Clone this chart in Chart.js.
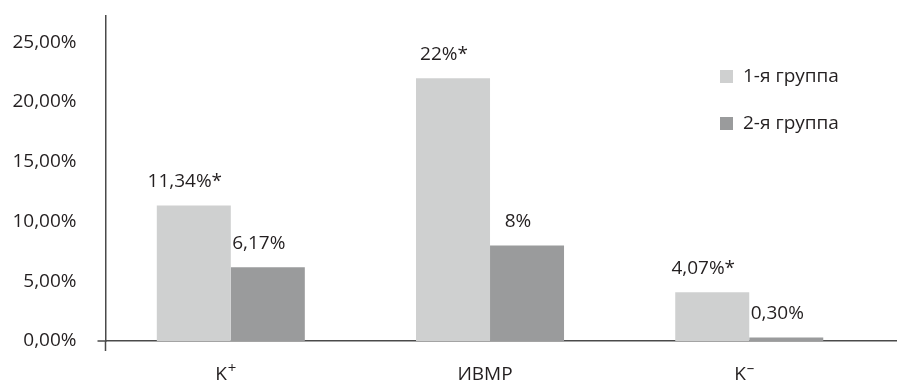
<!DOCTYPE html>
<html lang="ru">
<head>
<meta charset="utf-8">
<script src="https://cdn.jsdelivr.net/npm/chart.js@4/dist/chart.umd.min.js"></script>
<style>
  html, body { margin: 0; padding: 0; background: #ffffff; }
  #wrap { width: 897px; height: 383px; position: relative; }
</style>
</head>
<body>
<div id="wrap"><canvas id="chart"></canvas></div>
<script>
// Categories and series (percent values)
const categories = ['K\u207A', '\u0418\u0412\u041C\u0420', 'K\u207B'];
const seriesNames = ['1-я группа', '2-я группа'];
const group1 = [11.34, 22, 4.07];
const group2 = [6.17, 8, 0.30];
// Value labels shown above the bars ("*" marks a significant difference)
const group1Labels = ['11,34%*', '22%*', '4,07%*'];
const group2Labels = ['6,17%', '8%', '0,30%'];
// Y axis tick values
const yTicks = [0, 5, 10, 15, 20, 25];

const TEXT = '#231f20';
const AXIS = '#4a4a4a';
const FONT = '"Open Sans", "Noto Sans", "DejaVu Sans", sans-serif';
const FSIZE = 19;
const SUPSIZE = 15;
const COLORS = ['#cfd0d0', '#9a9b9c'];
const SUPERSCRIPTS = { '\u207A': '+', '\u207B': '\u2013' };

const toPoints = arr => arr.map((v, i) => ({ x: i, y: v }));

// Value labels above each bar
const valueLabels = {
  id: 'valueLabels',
  afterDatasetsDraw(chart) {
    const ctx = chart.ctx;
    const lists = [group1Labels, group2Labels];
    ctx.save();
    ctx.font = FSIZE + 'px ' + FONT;
    ctx.fillStyle = TEXT;
    ctx.textAlign = 'center';
    ctx.textBaseline = 'middle';
    chart.data.datasets.forEach((ds, d) => {
      chart.getDatasetMeta(d).data.forEach((bar, i) => {
        ctx.fillText(lists[d][i], bar.x - 9, bar.y - 24);
      });
    });
    ctx.restore();
  }
};

// Category names under the x axis; a trailing superscript sign is set small and raised
const categoryLabels = {
  id: 'categoryLabels',
  afterDraw(chart) {
    const ctx = chart.ctx;
    const xs = chart.scales.x;
    const baseY = chart.chartArea.bottom + 39;
    ctx.save();
    ctx.fillStyle = TEXT;
    ctx.textBaseline = 'alphabetic';
    ctx.textAlign = 'left';
    categories.forEach((label, i) => {
      const last = label.slice(-1);
      const sup = SUPERSCRIPTS[last];
      const base = sup ? label.slice(0, -1) : label;
      ctx.font = FSIZE + 'px ' + FONT;
      const wBase = ctx.measureText(base).width;
      ctx.font = SUPSIZE + 'px ' + FONT;
      const wSup = sup ? ctx.measureText(sup).width + 1 : 0;
      const cx = xs.getPixelForValue(i) - 5;
      const x0 = cx - (wBase + wSup) / 2;
      ctx.font = FSIZE + 'px ' + FONT;
      ctx.fillText(base, x0, baseY);
      if (sup) {
        ctx.font = SUPSIZE + 'px ' + FONT;
        ctx.fillText(sup, x0 + wBase + 1, baseY - 7);
      }
    });
    ctx.restore();
  }
};

// Legend: square swatches with series names, inside the plot on the right
const sideLegend = {
  id: 'sideLegend',
  afterDraw(chart) {
    const ctx = chart.ctx;
    const x = 720, y0 = 70, step = 47, box = 13;
    ctx.save();
    ctx.font = FSIZE + 'px ' + FONT;
    ctx.textBaseline = 'middle';
    ctx.textAlign = 'left';
    chart.data.datasets.forEach((ds, d) => {
      const y = y0 + d * step;
      ctx.fillStyle = ds.backgroundColor;
      ctx.fillRect(x, y, box, box);
      ctx.fillStyle = TEXT;
      ctx.fillText(ds.label, x + 23, y + box / 2 + 0.5);
    });
    ctx.restore();
  }
};

// Short extensions of the axes past their crossing point
const axisCross = {
  id: 'axisCross',
  afterDraw(chart) {
    const ctx = chart.ctx;
    const left = chart.chartArea.left;
    const zeroY = chart.scales.y.getPixelForValue(0);
    ctx.save();
    ctx.strokeStyle = AXIS;
    ctx.lineWidth = 1.5;
    ctx.beginPath();
    ctx.moveTo(left - 8, zeroY);
    ctx.lineTo(left, zeroY);
    ctx.moveTo(left, zeroY);
    ctx.lineTo(left, zeroY + 10);
    ctx.stroke();
    ctx.restore();
  }
};

new Chart(document.getElementById('chart'), {
  type: 'bar',
  data: {
    datasets: [
      { label: seriesNames[0], data: toPoints(group1), backgroundColor: COLORS[0], borderWidth: 0 },
      { label: seriesNames[1], data: toPoints(group2), backgroundColor: COLORS[1], borderWidth: 0 }
    ]
  },
  options: {
    responsive: true,
    maintainAspectRatio: false,
    animation: false,
    layout: { padding: { top: 16, right: 0, bottom: 0, left: 0 } },
    datasets: { bar: { categoryPercentage: 0.571, barPercentage: 1.0 } },
    plugins: { legend: { display: false }, tooltip: { enabled: false } },
    scales: {
      x: {
        type: 'linear',
        offset: false,
        min: -0.4834,
        max: 2.57,
        grid: { display: false, drawTicks: false, offset: false },
        border: { display: true, color: AXIS, width: 1.5 },
        afterBuildTicks(scale) { scale.ticks = categories.map((c, i) => ({ value: i })); },
        afterFit(scale) {
          scale.height = 42;
          scale.paddingLeft = 0;
          scale.paddingRight = 0;
        },
        ticks: { display: false }
      },
      y: {
        min: 0,
        max: 27.2,
        grid: { display: false, drawTicks: false },
        border: { display: true, color: AXIS, width: 1.5 },
        afterBuildTicks(scale) { scale.ticks = yTicks.map(v => ({ value: v })); },
        afterFit(scale) {
          scale.width = 105.5;
          scale.paddingTop = 0;
          scale.paddingBottom = 0;
        },
        ticks: {
          padding: 29,
          color: TEXT,
          font: { family: FONT, size: FSIZE },
          callback: v => v.toFixed(2).replace('.', ',') + '%'
        }
      }
    }
  },
  plugins: [valueLabels, categoryLabels, sideLegend, axisCross]
});
</script>
</body>
</html>
